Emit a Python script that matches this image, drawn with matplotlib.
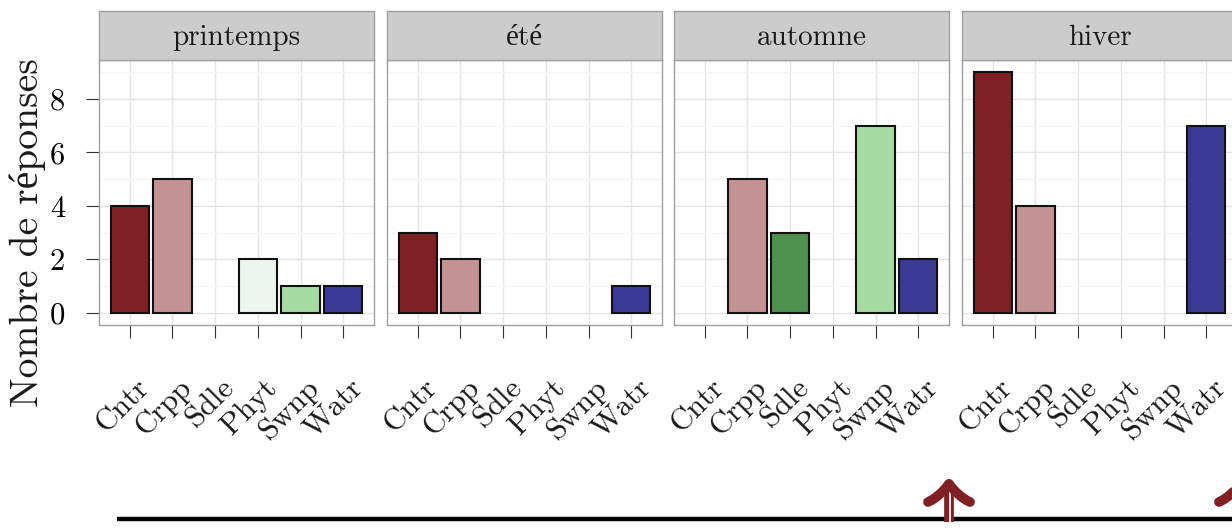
import numpy as np
import matplotlib
matplotlib.use("Agg")
import matplotlib.pyplot as plt
import matplotlib.transforms as mtransforms

saisons = ["printemps", "été", "automne", "hiver"]
categories = ["Cntr", "Crpp", "Sdle", "Phyt", "Swnp", "Watr"]
printemps = [4, 5, 0, 2, 1, 1]
ete = [3, 2, 0, 0, 0, 1]
automne = [0, 5, 3, 0, 7, 2]
hiver = [9, 4, 0, 0, 0, 7]
couleurs = ["#7f2124", "#c39393", "#4d914f", "#eef5ee", "#a6dba4", "#3a3a96"]
y_ticks = [0, 2, 4, 6, 8]

plt.rcParams['font.family'] = ['cmr10', 'Liberation Serif']
plt.rcParams['axes.unicode_minus'] = False
plt.rcParams['text.color'] = '#1a1a1a'

W, H = 1232, 528
fig = plt.figure(figsize=(W / 100, H / 100), dpi=100)

# decoration layer (pixel coords), bottom timeline + arrows
deco = fig.add_axes([0, 0, 1, 1], zorder=0)
deco.set_xlim(0, W)
deco.set_ylim(H, 0)
deco.axis('off')
rouge = "#7f2124"
deco.plot([117, W + 20], [519, 519], color='black', lw=3.2, solid_capstyle='butt')


def fleche(ax, x0):
    ax.plot([x0, x0], [522, 487], color=rouge, lw=7, solid_capstyle='butt')
    ax.plot([x0 + 1, x0 + 1], [522, 491], color='white', lw=1.2, solid_capstyle='butt')
    t = np.linspace(0, 1, 30)
    for s in (-1, 1):
        p0 = np.array([x0, 484])
        p1 = np.array([x0 + s * 10, 497])
        p2 = np.array([x0 + s * 21, 502])
        pts = np.outer((1 - t) ** 2, p0) + np.outer(2 * (1 - t) * t, p1) + np.outer(t ** 2, p2)
        ax.plot(pts[:, 0], pts[:, 1], color=rouge, lw=7, solid_capstyle='round')


fleche(deco, 949)
fleche(deco, 1240)

valeurs = [printemps, ete, automne, hiver]
lefts = [99, 387, 674, 962]
pw = 275
x = np.arange(1, len(categories) + 1)
decal = mtransforms.ScaledTranslation(5 / 100, -49 / 100, fig.dpi_scale_trans)

for i, (nom, vals) in enumerate(zip(saisons, valeurs)):
    ax = fig.add_axes([lefts[i] / W, (H - 325) / H, pw / W, 265 / H], zorder=1)
    ax.set_facecolor('white')
    xs = [xi for xi, v in zip(x, vals) if v > 0]
    hs = [v for v in vals if v > 0]
    cs = [c for c, v in zip(couleurs, vals) if v > 0]
    ax.bar(xs, hs, width=0.9, color=cs, edgecolor='#111111', linewidth=1.5, zorder=3)
    ax.set_xlim(0.28, 6.72)
    ax.set_ylim(-0.45, 9.45)
    ax.set_yticks(y_ticks)
    ax.set_yticks([1, 3, 5, 7, 9], minor=True)
    ax.set_xticks(x)
    ax.set_xticklabels([])
    trans = mtransforms.blended_transform_factory(ax.transData, ax.transAxes) + decal
    for xi, cat in zip(x, categories):
        ax.text(xi, 0, cat, rotation=45, ha='right', va='top', rotation_mode='anchor',
                fontsize=22, transform=trans, clip_on=False)
    ax.grid(True, which='major', color='#e5e5e5', lw=1.0, zorder=0)
    ax.grid(True, which='minor', axis='y', color='#f5f5f5', lw=1.0, zorder=0)
    ax.set_axisbelow(True)
    ax.tick_params(axis='x', length=9.4, width=0.8, color='#333333')
    ax.tick_params(axis='y', which='minor', length=0)
    if i == 0:
        ax.tick_params(axis='y', which='major', length=9.4, width=0.8,
                       color='#333333', pad=15, labelsize=22)
    else:
        ax.tick_params(axis='y', which='major', left=False, labelleft=False)
    for sp in ax.spines.values():
        sp.set_color('#a0a0a0')
        sp.set_linewidth(1.0)

    st = fig.add_axes([lefts[i] / W, (H - 60) / H, pw / W, 49 / H], zorder=1)
    st.set_facecolor('#cccccc')
    st.set_xticks([])
    st.set_yticks([])
    for sp in st.spines.values():
        sp.set_color('#a0a0a0')
        sp.set_linewidth(1.0)
    st.text(0.5, 0.45, nom, ha='center', va='center', fontsize=21, transform=st.transAxes)

fig.text(28 / W, 1 - 233 / H, "Nombre de réponses", rotation=90,
         ha='center', va='center', fontsize=28.5)

fig.savefig("out.png", dpi=100)
